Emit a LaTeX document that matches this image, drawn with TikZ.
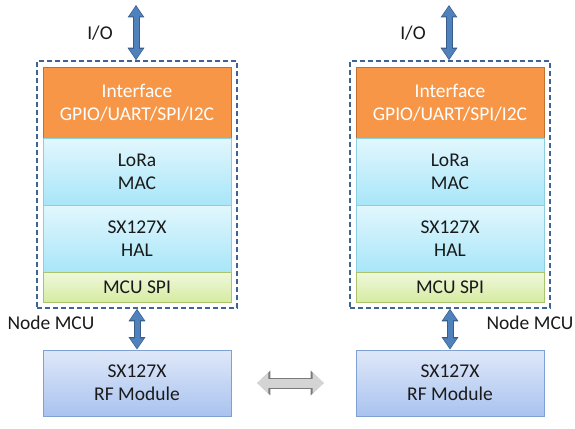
\documentclass[tikz,border=0pt]{standalone}
\usepackage{fontspec}
\setmainfont{Carlito}
\usetikzlibrary{arrows.meta}
\definecolor{orfill}{HTML}{F79646}
\definecolor{orline}{HTML}{C0702F}
\definecolor{cytop}{HTML}{E2F7FD}
\definecolor{cybot}{HTML}{A8E6F9}
\definecolor{cyline}{HTML}{8CCFE0}
\definecolor{grtop}{HTML}{F0F8DC}
\definecolor{grbot}{HTML}{D6EBA2}
\definecolor{grline}{HTML}{A9C46A}
\definecolor{bltop}{HTML}{DFE8F9}
\definecolor{blbot}{HTML}{A9C3EF}
\definecolor{blline}{HTML}{7FA0D2}
\definecolor{dashcol}{HTML}{3F6494}
\definecolor{arrfill}{HTML}{4F81BD}
\definecolor{arrline}{HTML}{385D8A}
\definecolor{gyfill}{HTML}{D4D4D4}
\definecolor{gyline}{HTML}{7A7A7A}
\definecolor{txt}{HTML}{1A1A1A}
\tikzset{
  lbl/.style={font=\fontsize{19.5}{23}\selectfont, text=txt, align=center, inner sep=0pt},
  layer/.style={lbl, minimum width=188pt, line width=0.8pt},
  iface/.style={layer, fill=orfill, draw=orline, text=white, minimum height=71pt},
  cyanbox/.style={layer, top color=cytop, bottom color=cybot, draw=cyline, minimum height=67pt},
  greenbox/.style={layer, top color=grtop, bottom color=grbot, draw=grline, minimum height=30pt},
  rfbox/.style={layer, top color=bltop, bottom color=blbot, draw=blline, minimum height=66pt},
  dashbox/.style={draw=dashcol, line width=1.5pt, dash pattern=on 5pt off 3pt, minimum width=200pt, minimum height=247pt, inner sep=0pt},
  blockarrow/.style={line width=5pt, draw=arrfill,
    {Triangle[width=13pt,length=10pt]}-{Triangle[width=13pt,length=10pt]},
    shorten >=1.3pt, shorten <=1.3pt,
    preaction={draw=arrline, line width=7pt, shorten >=0pt, shorten <=0pt,
      {Triangle[width=16pt,length=12.5pt]}-{Triangle[width=16pt,length=12.5pt]}}},
  grayarrow/.style={line width=9pt, draw=gyfill,
    {Triangle[width=21pt,length=11pt]}-{Triangle[width=21pt,length=11pt]},
    preaction={draw=gyline, line width=11pt,
      {Triangle[width=24pt,length=13pt]}-{Triangle[width=24pt,length=13pt]}}}
}
\begin{document}
\begin{tikzpicture}[x=1pt,y=-1pt]
\useasboundingbox (0,0) rectangle (575,428);
\fill[white] (0,0) rectangle (575,428);
% left stack
\node[iface]    (if1)  at (137,102.5) {Interface\\GPIO/UART/SPI/I2C};
\node[cyanbox]  (mac1) at (137,171.5) {LoRa\\MAC};
\node[cyanbox]  (hal1) at (137,238.5) {SX127X\\HAL};
\node[greenbox] (spi1) at (137,287)   {MCU SPI};
\node[dashbox]  (box1) at (137,184.5) {};
\node[rfbox]    (rf1)  at (137,383)   {SX127X\\RF Module};
\node[lbl] (io1)  at (100,33)  {I/O};
\node[lbl] (mcu1) at (51,323)  {Node MCU};
\coordinate (io1top) at (136,5);
% right stack
\node[iface]    (if2)  at (450,102.5) {Interface\\GPIO/UART/SPI/I2C};
\node[cyanbox]  (mac2) at (450,171.5) {LoRa\\MAC};
\node[cyanbox]  (hal2) at (450,238.5) {SX127X\\HAL};
\node[greenbox] (spi2) at (450,287)   {MCU SPI};
\node[dashbox]  (box2) at (450,184.5) {};
\node[rfbox]    (rf2)  at (450,383)   {SX127X\\RF Module};
\node[lbl] (io2)  at (413,33)  {I/O};
\node[lbl] (mcu2) at (530,323) {Node MCU};
\coordinate (io2top) at (449,5);
% arrows
\draw[blockarrow] (io1top) -- (io1top |- box1.north);
\draw[blockarrow] (io2top) -- (io2top |- box2.north);
\draw[blockarrow] (box1.south) -- (rf1.north);
\draw[blockarrow] (box2.south) -- (rf2.north);
\draw[grayarrow, shorten <=26pt, shorten >=32pt] (rf1.east) -- (rf2.west);
\end{tikzpicture}
\end{document}
